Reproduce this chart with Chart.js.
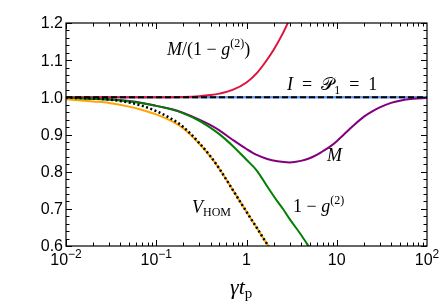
<!DOCTYPE html>
<html>
<head>
<meta charset="utf-8">
<script src="https://cdn.jsdelivr.net/npm/chart.js@4.4.1/dist/chart.umd.min.js"></script>
<style>
  body { margin: 0; background: #fff; }
  #wrap { width: 441px; height: 308px; }
</style>
</head>
<body>
<div id="wrap"><canvas id="myChart" width="441" height="308"></canvas></div>
<script>
// values (x = gamma t_p, log axis)
var xRed = [0.01, 0.1, 0.2, 0.3, 0.4, 0.5, 0.7, 1, 1.3, 1.6, 2, 2.5, 3];
var yRed = [1.0, 1.0, 1.001, 1.003, 1.006, 1.01, 1.02, 1.04, 1.065, 1.093, 1.128, 1.17, 1.21];

var xM = [0.01, 0.03, 0.05, 0.07, 0.1, 0.15, 0.2, 0.3, 0.4, 0.5, 0.7, 1, 1.3, 1.7, 2.2, 3, 4, 5, 6, 7, 8.5, 10, 12, 15, 20, 25, 30, 40, 50, 70, 100];
var yM = [0.998, 0.994, 0.99, 0.985, 0.977, 0.968, 0.958, 0.94, 0.925, 0.911, 0.886, 0.861, 0.845, 0.834, 0.828, 0.825, 0.829, 0.836, 0.845, 0.855, 0.868, 0.882, 0.9, 0.922, 0.948, 0.963, 0.973, 0.985, 0.991, 0.996, 0.998];

var xG = [0.01, 0.03, 0.05, 0.07, 0.1, 0.15, 0.2, 0.3, 0.4, 0.5, 0.7, 1, 1.3, 1.7, 2.2, 2.55, 3, 4, 4.65, 5];
var yG = [0.998, 0.994, 0.989, 0.984, 0.977, 0.967, 0.957, 0.937, 0.918, 0.901, 0.87, 0.832, 0.803, 0.76, 0.72, 0.699, 0.673, 0.631, 0.607, 0.595];

var xV = [0.01, 0.02, 0.03, 0.05, 0.07, 0.1, 0.15, 0.2, 0.3, 0.4, 0.5, 0.7, 1, 1.3, 1.5, 1.8];
var yV = [0.995, 0.989, 0.985, 0.975, 0.966, 0.954, 0.935, 0.916, 0.875, 0.84, 0.808, 0.752, 0.692, 0.649, 0.625, 0.595];
var yVdot = [0.999, 0.997, 0.994, 0.986, 0.977, 0.963, 0.941, 0.92, 0.877, 0.841, 0.808, 0.752, 0.692, 0.649, 0.625, 0.595];

var xI = [0.01, 100];
var yI = [1, 1];

var yTicks = [0.6, 0.7, 0.8, 0.9, 1.0, 1.1, 1.2];
var xTicks = [0.01, 0.1, 1, 10, 100];
var xTickLabels = [['10', '\u22122'], ['10', '\u22121'], ['1', ''], ['10', ''], ['10', '2']];

function pts(xs, ys) {
    return xs.map(function (x, i) { return { x: x, y: ys[i] }; });
}

function runs(ctx, x, y, list) {
    list.forEach(function (r) {
        ctx.font = r[1];
        ctx.fillText(r[0], x, y + (r[2] || 0));
        x += ctx.measureText(r[0]).width;
    });
}

var serif = '"Liberation Serif", "DejaVu Serif", serif';
var itl = 'italic 18px ' + serif;
var rom = '18px ' + serif;
var sup = '12px ' + serif;

var framePlugin = {
    id: 'frame',
    afterDraw: function (chart) {
        var ctx = chart.ctx;
        var a = chart.chartArea;
        var xs = chart.scales.x, ys = chart.scales.y;
        ctx.save();
        ctx.strokeStyle = '#000';
        ctx.lineWidth = 1.2;
        ctx.strokeRect(a.left, a.top, a.right - a.left, a.bottom - a.top);

        // y ticks, inside on left and right
        ctx.lineWidth = 1;
        for (var k = 0; k <= 30; k++) {
            var v = 0.6 + k * 0.02;
            var py = Math.round(ys.getPixelForValue(v)) + 0.5;
            var len = (k % 5 == 0) ? 6 : 3.5;
            ctx.beginPath();
            ctx.moveTo(a.left, py); ctx.lineTo(a.left + len, py);
            ctx.moveTo(a.right, py); ctx.lineTo(a.right - len, py);
            ctx.stroke();
        }
        // x ticks, inside on bottom and top
        for (var d = -2; d < 2; d++) {
            for (var m = 1; m <= 9; m++) {
                var px = Math.round(xs.getPixelForValue(m * Math.pow(10, d))) + 0.5;
                var l2 = (m == 1) ? 6 : 3.5;
                ctx.beginPath();
                ctx.moveTo(px, a.bottom); ctx.lineTo(px, a.bottom - l2);
                ctx.moveTo(px, a.top); ctx.lineTo(px, a.top + l2);
                ctx.stroke();
            }
        }

        // tick labels
        ctx.fillStyle = '#000';
        ctx.font = '16px "Liberation Sans", Arial, sans-serif';
        ctx.textAlign = 'right';
        ctx.textBaseline = 'middle';
        yTicks.forEach(function (t) {
            ctx.fillText(t.toFixed(1), a.left - 3, ys.getPixelForValue(t) + 1);
        });
        ctx.textAlign = 'left';
        ctx.textBaseline = 'alphabetic';
        xTicks.forEach(function (t, i) {
            var base = xTickLabels[i][0], ex = xTickLabels[i][1];
            ctx.font = '16px "Liberation Sans", Arial, sans-serif';
            var w1 = ctx.measureText(base).width;
            ctx.font = '12px "Liberation Sans", Arial, sans-serif';
            var w2 = ctx.measureText(ex).width;
            var x0 = xs.getPixelForValue(t) - (w1 + w2) / 2;
            ctx.font = '16px "Liberation Sans", Arial, sans-serif';
            ctx.fillText(base, x0, 265);
            ctx.font = '12px "Liberation Sans", Arial, sans-serif';
            ctx.fillText(ex, x0 + w1, 258);
        });

        // curve labels
        runs(ctx, 167, 55, [['M', itl], ['/(1 \u2212 ', rom], ['g', itl], ['(2)', sup, -8], [')', rom]]);
        runs(ctx, 287, 90, [['I', itl], ['  =  ', rom], ['\uD835\uDCAB', rom], ['1', sup, 4], ['  =  1', rom]]);
        runs(ctx, 327, 161, [['M', itl]]);
        runs(ctx, 293, 212, [['1 \u2212 ', rom], ['g', itl], ['(2)', sup, -8]]);
        runs(ctx, 192, 213, [['V', itl], ['HOM', sup, 3]]);
        runs(ctx, 230, 294, [['\u03B3t', 'italic 22px ' + serif], ['p', '15px ' + serif, 4]]);
        ctx.restore();
    }
};

const ctx = document.getElementById('myChart');

new Chart(ctx, {
    type: 'line',
    data: {
        datasets: [{
            label: 'V_HOM (dotted)',
            data: pts(xV, yVdot),
            borderColor: '#000',
            borderWidth: 2.5,
            borderDash: [2, 2.5]
        }, {
            label: 'I = P1 = 1 (dashed)',
            data: pts(xI, yI),
            borderColor: '#000',
            borderWidth: 2,
            borderDash: [6, 3]
        }, {
            label: 'V_HOM',
            data: pts(xV, yV),
            borderColor: '#ffa500',
            borderWidth: 2
        }, {
            label: '1 - g2',
            data: pts(xG, yG),
            borderColor: '#008000',
            borderWidth: 2
        }, {
            label: 'M',
            data: pts(xM, yM),
            borderColor: '#800080',
            borderWidth: 2
        }, {
            label: 'M/(1-g2)',
            data: pts(xRed, yRed),
            borderColor: '#dc143c',
            borderWidth: 2
        }, {
            label: 'I',
            data: pts(xI, yI),
            borderColor: '#6495ed',
            borderWidth: 2.5
        }]
    },
    options: {
        responsive: false,
        animation: false,
        layout: { padding: { left: 66, right: 14, top: 23, bottom: 62 } },
        elements: {
            point: { radius: 0 },
            line: { cubicInterpolationMode: 'monotone', fill: false }
        },
        plugins: { legend: { display: false }, tooltip: { enabled: false } },
        scales: {
            x: { type: 'logarithmic', min: 0.01, max: 100, display: false },
            y: { type: 'linear', min: 0.6, max: 1.2, display: false }
        }
    },
    plugins: [framePlugin]
});
</script>
</body>
</html>
